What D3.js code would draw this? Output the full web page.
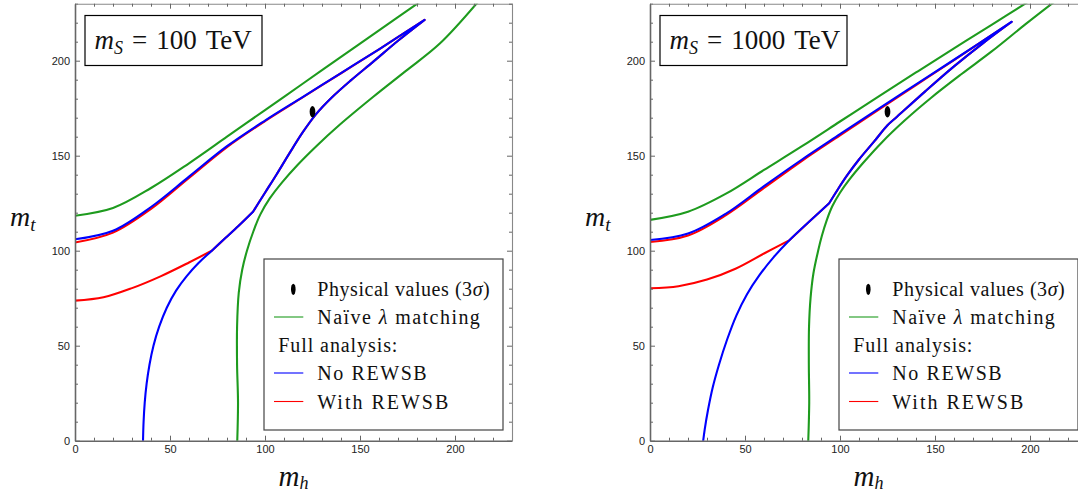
<!DOCTYPE html>
<html><head><meta charset="utf-8">
<script src="https://cdn.jsdelivr.net/npm/d3@7"></script>
<style>body{margin:0;background:#fff}svg{display:block}</style>
</head><body><svg id="c" width="1078" height="494"></svg>
<script>
// ---------- data (units: GeV) ----------
const xTickValues = [0, 50, 100, 150, 200];
const yTickValues = [0, 50, 100, 150, 200];
const titles = ["100", "1000"];
const physicalPoint = [125, 173.1];
const physicalErr = [1.5, 3];

// left panel, m_S = 100 TeV
const L_greenUpper = [[0,118.4],[20,122.5],[40,133],[60,146],[80,160],[100,174],[120,188],[140,202],[160,216],[183,232]];
const L_greenLower = [[85.4,0],[85.8,20],[85.3,40],[85.3,60],[86.2,78],[88,90],[90.5,100],[94,110.5],[97.5,119],[102.5,127.5],[109,136],[117,145],[127,155],[139,166],[157,181],[174,194.5],[192,209],[213,232]];
const L_blueUpper = [[0,106],[20,110.5],[40,123],[60,139],[80,155],[100,168.5],[120,181],[140,193.5],[160,206],[184,221.5]];
const L_blueLower = [[184,221.5],[170,210.5],[157,199.5],[145,189.5],[135,180.5],[127,172],[120,162.5],[113,151.5],[106,140],[100,130.5],[93.7,120.5]];
const L_blueLowerLeft = [[93.7,120.5],[86,113],[79,106.5],[72,100],[65,93.5],[58.7,86.5],[53.2,79],[48.3,70],[44.3,60],[41.3,50],[39.2,40],[37.7,30],[36.7,20],[36.1,10],[35.8,0]];
const L_redUpper = [[0,104.3],[20,109.5],[40,122],[60,138.3],[80,154.5],[100,168.2],[120,180.8],[140,193.4],[160,206],[184,221.5]];
const L_redLower = [[0,73.7],[15,75.5],[30,80.3],[45,86.5],[60,93.8],[72,100]];

// right panel, m_S = 1000 TeV
const R_greenUpper = [[0,116.2],[20,120.5],[40,130],[60,142.5],[80,155],[100,168],[120,181],[140,193.8],[160,206.5],[180,219],[199,231]];
const R_greenLower = [[83.3,0],[83.8,20],[83.6,40],[83.7,60],[84.5,75],[86,88],[88.5,100],[90.5,108],[93,116],[96,123.5],[100,130.5],[105,137.5],[112,146],[122,157],[134,168.5],[148,180.5],[164,193],[180,205],[198,219.5],[218,235]];
const R_blueUpper = [[0,105.6],[20,109],[40,119.5],[60,134],[80,148],[100,161.3],[120,174.5],[140,187.5],[160,200.5],[190.4,220.5]];
const R_blueLower = [[190.4,220.5],[175,209],[160,197],[145,184],[130,170.5],[125,166],[118,157.5],[110,148],[104,140],[99,132.5],[94.3,125]];
const R_blueLowerLeft = [[94.3,125],[84,115.5],[73.5,105.6],[65,96.5],[57.5,87],[51,77],[45.5,66],[40.5,53],[36.3,40],[33,28],[30.5,16],[28.8,6],[28,0]];
const R_redUpper = [[0,104.6],[20,108],[40,118.7],[60,133],[80,147.3],[100,160.7],[120,174],[140,187.2],[160,200.3],[190.4,220.5]];
const R_redLower = [[0,80.2],[15,81.3],[30,84.8],[45,90.5],[60,98.5],[73.5,105.6]];

// ---------- drawing ----------
const svg = d3.select("#c");
const GREEN = "#1e9b1e", BLUE = "#0000ff", RED = "#ff0000";
const SERIF = "'Liberation Serif','Times New Roman',serif";
const SANS = "'Liberation Sans',Arial,sans-serif";

function fitWidth(sel, target) {
  const n = sel.text().length;
  const len = sel.node().getComputedTextLength();
  sel.attr("letter-spacing", ((target - len) / n).toFixed(3));
}

const panels = [
  {x0: 75, title: titles[0], boxW: 177, gU: L_greenUpper, gL: L_greenLower, bU: L_blueUpper, bL: L_blueLower, bLL: L_blueLowerLeft, rU: L_redUpper, rL: L_redLower},
  {x0: 650, title: titles[1], boxW: 187, gU: R_greenUpper, gL: R_greenLower, bU: R_blueUpper, bL: R_blueLower, bLL: R_blueLowerLeft, rU: R_redUpper, rL: R_redLower}
];

panels.forEach((p, i) => {
  const W = 437, yTop = 3.7, yBot = 440.7;
  const x = d3.scaleLinear().domain([0, 230]).range([p.x0, p.x0 + W]);
  const y = d3.scaleLinear().domain([0, 230]).range([yBot, yTop]);
  const g = svg.append("g");

  const clipId = "clip" + i;
  svg.append("clipPath").attr("id", clipId).append("rect")
    .attr("x", p.x0).attr("y", yTop).attr("width", W).attr("height", yBot - yTop);

  const line = d3.line().x(d => x(d[0])).y(d => y(d[1])).curve(d3.curveCatmullRom.alpha(0.5));
  const joined = segs => segs.map((s, k) => { const d = line(s); return k === 0 ? d : d.replace(/^M/, "L"); }).join("");
  const rev = a => a.slice().reverse();

  const curves = g.append("g").attr("clip-path", `url(#${clipId})`)
    .attr("fill", "none").attr("stroke-width", 2.1).attr("stroke-linejoin", "round").attr("stroke-linecap", "round");

  curves.append("path").attr("d", line(p.gU)).attr("stroke", GREEN);
  curves.append("path").attr("d", line(p.gL)).attr("stroke", GREEN);
  const joinPart = p.bLL.filter(d => d[1] >= p.rL[p.rL.length - 1][1]);
  curves.append("path").attr("d", joined([p.rL, rev(joinPart), rev(p.bL), rev(p.rU)])).attr("stroke", RED);
  curves.append("path").attr("d", joined([rev(p.bLL), rev(p.bL), rev(p.bU)])).attr("stroke", BLUE);

  curves.append("ellipse").attr("cx", x(physicalPoint[0])).attr("cy", y(physicalPoint[1]))
    .attr("rx", x(physicalErr[0]) - x(0)).attr("ry", y(0) - y(physicalErr[1])).attr("fill", "#000").attr("stroke", "none");

  // axes
  const minor = d3.range(0, 231, 10).filter(v => v % 50 !== 0);
  const styleAx = (sel, col, w) => {
    sel.select(".domain").attr("stroke", col).attr("stroke-width", w);
    sel.selectAll(".tick line").attr("stroke", "#666");
    sel.selectAll("text").attr("font-family", SANS).attr("font-size", 11).attr("fill", "#222");
  };
  const bx = g.append("g").attr("transform", `translate(0,${yBot})`)
    .call(d3.axisBottom(x).tickValues(xTickValues).tickSize(-5).tickSizeOuter(0).tickPadding(5));
  styleAx(bx, "#666", 1.6);
  g.append("g").attr("transform", `translate(0,${yBot})`)
    .call(d3.axisBottom(x).tickValues(minor).tickSize(-3).tickSizeOuter(0).tickFormat(""))
    .call(s => { s.select(".domain").remove(); s.selectAll("line").attr("stroke", "#666"); });
  const ly = g.append("g").attr("transform", `translate(${p.x0},0)`)
    .call(d3.axisLeft(y).tickValues(yTickValues).tickSize(-5).tickSizeOuter(0).tickPadding(5));
  styleAx(ly, "#666", 1.6);
  g.append("g").attr("transform", `translate(${p.x0},0)`)
    .call(d3.axisLeft(y).tickValues(minor).tickSize(-3).tickSizeOuter(0).tickFormat(""))
    .call(s => { s.select(".domain").remove(); s.selectAll("line").attr("stroke", "#666"); });
  [[d3.axisTop, yTop, "y"], [d3.axisRight, p.x0 + W, "x"]].forEach(([ax, pos, dir]) => {
    const sc = dir === "y" ? x : y;
    const tr = dir === "y" ? `translate(0,${pos})` : `translate(${pos},0)`;
    const a1 = g.append("g").attr("transform", tr)
      .call(ax(sc).tickValues(xTickValues).tickSize(-5).tickSizeOuter(0).tickFormat(""));
    a1.select(".domain").attr("stroke", "#888").attr("stroke-width", 1.1);
    a1.selectAll("line").attr("stroke", "#666");
    g.append("g").attr("transform", tr)
      .call(ax(sc).tickValues(minor).tickSize(-3).tickSizeOuter(0).tickFormat(""))
      .call(s => { s.select(".domain").remove(); s.selectAll("line").attr("stroke", "#666"); });
  });

  // title box
  const tb = g.append("g");
  tb.append("rect").attr("x", p.x0 + 10).attr("y", 15.5).attr("width", p.boxW).attr("height", 50)
    .attr("fill", "#fff").attr("stroke", "#000").attr("stroke-width", 1.2);
  const tt = tb.append("text").attr("x", p.x0 + 19.5).attr("y", 49).attr("font-family", SERIF).attr("font-size", 27).attr("fill", "#111");
  tt.append("tspan").attr("font-style", "italic").text("m");
  tt.append("tspan").attr("font-style", "italic").attr("font-size", 18).attr("dy", 5).text("S");
  tt.append("tspan").attr("dy", -5).attr("dx", 9).text("=");
  tt.append("tspan").attr("dx", 9).text(p.title);
  tt.append("tspan").attr("dx", 9).text("TeV");

  // axis labels
  const mt = g.append("text").attr("x", p.x0 - 65).attr("y", 226).attr("font-family", SERIF).attr("font-size", 28).attr("fill", "#111");
  mt.append("tspan").attr("font-style", "italic").text("m");
  mt.append("tspan").attr("font-style", "italic").attr("font-size", 19).attr("dy", 5).text("t");
  const mh = g.append("text").attr("x", x(115)).attr("y", 486).attr("text-anchor", "middle").attr("font-family", SERIF).attr("font-size", 29).attr("fill", "#111");
  mh.append("tspan").attr("font-style", "italic").text("m");
  mh.append("tspan").attr("font-style", "italic").attr("font-size", 18).attr("dy", 3).text("h");

  // legend
  const lg = g.append("g").attr("font-family", SERIF).attr("font-size", 20).attr("fill", "#111");
  const lx = p.x0 + 189;
  lg.append("rect").attr("x", lx).attr("y", 259).attr("width", 239).attr("height", 171)
    .attr("fill", "#fff").attr("stroke", "#444").attr("stroke-width", 1.2);
  lg.append("ellipse").attr("cx", lx + 29.3).attr("cy", 289.3).attr("rx", 2.3).attr("ry", 5.6).attr("fill", "#000");
  const t1 = lg.append("text").attr("x", lx + 53.3).attr("y", 296);
  t1.append("tspan").text("Physical values (3");
  t1.append("tspan").attr("font-style", "italic").text("σ");
  t1.append("tspan").text(")");
  fitWidth(t1, 173);
  const rows = [[GREEN, 324, null, 164], [BLUE, 380, "No REWSB", 111], [RED, 408.5, "With REWSB", 133]];
  rows.forEach(([c, yy, label, w]) => {
    lg.append("line").attr("x1", lx + 10).attr("x2", lx + 39.3).attr("y1", yy - 7).attr("y2", yy - 7)
      .attr("stroke", c).attr("stroke-width", 1.1);
    const t = lg.append("text").attr("x", lx + 53.3).attr("y", yy);
    if (label) t.text(label);
    else {
      t.append("tspan").text("Naïve ");
      t.append("tspan").attr("font-style", "italic").text("λ");
      t.append("tspan").text(" matching");
    }
    fitWidth(t, w);
  });
  const fa = lg.append("text").attr("x", lx + 14.3).attr("y", 352).text("Full analysis:");
  fitWidth(fa, 120);
});
</script></body></html>
